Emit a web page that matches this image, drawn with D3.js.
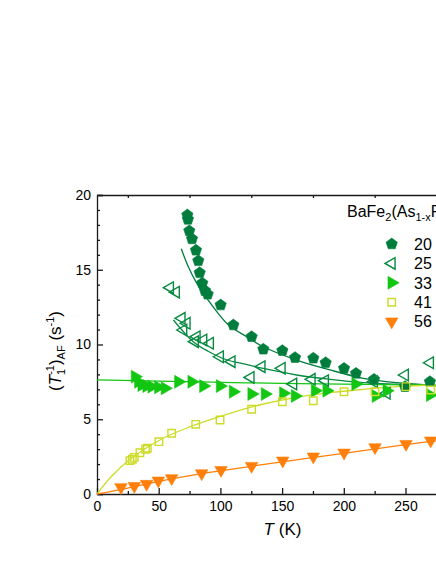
<!DOCTYPE html>
<html>
<head>
<meta charset="utf-8">
<script src="https://cdn.jsdelivr.net/npm/d3@7"></script>
<style>
  body { margin: 0; background: #fff; }
  svg { display: block; font-family: "Liberation Sans", Arial, sans-serif; }
</style>
</head>
<body>
<svg id="main" width="436" height="564"></svg>
<script>
// measured points, x = 20, 25, 33, 41, 56 (%)
const t20 = [73.2, 73.7, 74.8, 77, 80.2, 82.1, 83.2, 85.3, 87.5, 89.7, 100.2, 110.5, 125.3, 134.8, 150.2, 160.5, 175.3, 185.3, 200.2, 209.9, 224.5, 249.6, 269.8];
const r20 = [18.66, 18.37, 17.6, 17.06, 16.3, 15.6, 14.8, 14.1, 13.6, 13.36, 12.64, 11.3, 10.52, 9.68, 9.59, 9.12, 9.08, 8.78, 8.4, 8.07, 7.67, 7.18, 7.51];

const t25 = [59.2, 64, 68.6, 72.7, 70, 79.4, 80.8, 86.2, 91.6, 99.7, 109.1, 124.5, 133.4, 149.7, 159.1, 174, 184.8, 224.5, 234.8, 249.6, 269.9];
const r25 = [13.8, 13.5, 11.75, 11.42, 10.97, 10.19, 10.52, 10.3, 10.08, 9.18, 8.85, 7.8, 8.52, 8.41, 7.36, 7.67, 7.58, 7.51, 6.74, 7.96, 8.78];

const t33 = [30.8, 33.5, 36.2, 40.2, 44.3, 49.7, 55.1, 65.9, 76.7, 86.2, 99.7, 110.3, 125.3, 136.1, 151, 160.5, 176.7, 186.1, 209.5, 226, 234.8, 270];
const r33 = [7.85, 7.51, 7.29, 7.22, 7.18, 7.14, 7.07, 7.51, 7.51, 7.22, 7.22, 6.84, 6.69, 6.69, 6.74, 6.56, 6.91, 6.91, 7.35, 6.55, 6.91, 6.62];

const t41 = [26.7, 28.6, 30.2, 34.8, 39.4, 40.8, 50.2, 60.5, 80, 99.7, 125.3, 150.2, 175.3, 200.2, 225.3, 250.4, 270.4];
const r41 = [2.23, 2.32, 2.45, 2.76, 2.99, 3.06, 3.5, 4.06, 4.66, 4.95, 5.67, 6.17, 6.24, 6.84, 6.84, 7.18, 6.96];

const t56 = [19.4, 30.2, 40.2, 49.7, 60.5, 84.8, 100.5, 125.3, 150.5, 175.3, 200.2, 225.3, 250.4, 270.4];
const r56 = [0.45, 0.53, 0.67, 0.89, 1.05, 1.38, 1.6, 1.87, 2.23, 2.5, 2.76, 3.12, 3.34, 3.57];

// fit curves
const fit20T = [68.3, 74, 80.8, 94.3, 106.7, 121.3, 134.8, 161.8, 188.8, 215.8, 242.9, 269.9, 282];
const fit20R = [16.4, 15.2, 14.1, 12.5, 11.3, 10.52, 9.85, 8.96, 8.3, 7.74, 7.45, 7.29, 7.24];
const fit25T = [61.9, 78, 90, 105, 120, 134.8, 161.8, 188.8, 215.8, 242.9, 270, 282];
const fit25R = [11.64, 10.19, 9.55, 8.98, 8.68, 8.4, 7.96, 7.67, 7.45, 7.34, 7.25, 7.22];
const fit33T = [0, 50, 100, 150, 200, 250, 282];
const fit33R = [7.63, 7.55, 7.47, 7.4, 7.35, 7.3, 7.28];
const fit41T = [0, 12, 25.4, 52.4, 79.4, 107.8, 134.8, 161.8, 188.8, 215.8, 242.9, 269.9, 282];
const fit41R = [0, 1.2, 2.23, 3.68, 4.62, 5.4, 6.02, 6.47, 6.78, 7.0, 7.18, 7.29, 7.33];
const fit56T = [0, 25, 50, 80, 100, 150, 200, 250, 282];
const fit56R = [0, 0.4, 0.85, 1.3, 1.55, 2.15, 2.72, 3.3, 3.62];

const xTicks = [0, 50, 100, 150, 200, 250];
const yTicks = [0, 5, 10, 15, 20];
const legendLabels = ["20", "25", "33", "41", "56"];

const svg = d3.select("#main");
const x = d3.scaleLinear().domain([0, 300]).range([97, 467.2]);
const y = d3.scaleLinear().domain([0, 20]).range([494, 195]);

const pentagon = {
  draw(ctx, size) {
    const r = Math.sqrt(size / 2.378);
    for (let i = 0; i < 5; i++) {
      const a = -Math.PI / 2 + i * 2 * Math.PI / 5;
      if (i === 0) ctx.moveTo(r * Math.cos(a), r * Math.sin(a));
      else ctx.lineTo(r * Math.cos(a), r * Math.sin(a));
    }
    ctx.closePath();
  }
};

const series = [
  { t: t20, r: r20, ft: fit20T, fr: fit20R, color: "#007d3c", type: pentagon, size: 84, rot: 0, open: false },
  { t: t25, r: r25, ft: fit25T, fr: fit25R, color: "#078a40", type: d3.symbolTriangle, size: 58, rot: -90, open: true },
  { t: t33, r: r33, ft: fit33T, fr: fit33R, color: "#12c612", type: d3.symbolTriangle, size: 72, rot: 90, open: false },
  { t: t41, r: r41, ft: fit41T, fr: fit41R, color: "#cddc28", type: d3.symbolSquare, size: 56, rot: 0, open: true },
  { t: t56, r: r56, ft: fit56T, fr: fit56R, color: "#ff7f0a", type: d3.symbolTriangle, size: 68, rot: 180, open: false }
];

// axes
const axisColor = "#1a1a1a";
function styleAxis(g) {
  g.selectAll("path, line").attr("stroke", axisColor).attr("stroke-width", 1.3);
  g.selectAll("text").attr("fill", "#000").attr("font-size", 14).attr("font-family", "Liberation Sans, Arial, sans-serif");
}

svg.append("g").attr("transform", "translate(0,494)")
  .call(d3.axisBottom(x).tickValues(xTicks).tickSize(-6).tickSizeOuter(0).tickPadding(7.5).tickFormat(d3.format("d")))
  .call(styleAxis);
svg.append("g").attr("transform", "translate(0,494)")
  .call(d3.axisBottom(x).tickValues(d3.range(25, 300, 50)).tickSize(-3).tickFormat(""))
  .call(styleAxis).select(".domain").remove();

svg.append("g").attr("transform", "translate(97,0)")
  .call(d3.axisLeft(y).tickValues(yTicks).tickSize(-6).tickPadding(6))
  .call(styleAxis);
svg.append("g").attr("transform", "translate(97,0)")
  .call(d3.axisLeft(y).tickValues(d3.range(0, 21).filter(v => v % 5 !== 0)).tickSize(-3).tickFormat(""))
  .call(styleAxis).select(".domain").remove();

svg.append("g").attr("transform", "translate(0,195)")
  .call(d3.axisTop(x).tickValues(d3.range(25, 300, 50)).tickSize(-3).tickSizeOuter(0).tickFormat(""))
  .call(styleAxis);

// fit lines
const line = d3.line().x(d => x(d[0])).y(d => y(d[1])).curve(d3.curveCatmullRom);
series.forEach(s => {
  svg.append("path")
    .datum(s.ft.map((t, i) => [t, s.fr[i]]))
    .attr("d", line)
    .attr("fill", "none")
    .attr("stroke", s.color)
    .attr("stroke-width", 1.3);
});

// markers
function drawMarker(g, s, cx, cy) {
  g.append("path")
    .attr("d", d3.symbol().type(s.type).size(s.size)())
    .attr("transform", `translate(${cx},${cy}) rotate(${s.rot})`)
    .attr("fill", s.open ? "none" : s.color)
    .attr("stroke", s.color)
    .attr("stroke-width", s.open ? 1.4 : 0.6);
}
series.forEach(s => {
  const g = svg.append("g");
  s.t.forEach((t, i) => drawMarker(g, s, x(t), y(s.r[i])));
});

// legend
const title = svg.append("text").attr("x", 347).attr("y", 217).attr("font-size", 16).attr("fill", "#000");
title.append("tspan").text("BaFe");
title.append("tspan").attr("font-size", 11).attr("dy", 4).text("2");
title.append("tspan").attr("dy", -4).text("(As");
title.append("tspan").attr("font-size", 11).attr("dy", 4).text("1-x");
title.append("tspan").attr("dy", -4).text("P");
title.append("tspan").attr("font-size", 11).attr("dy", 4).text("x");
title.append("tspan").attr("dy", -4).text(")");
title.append("tspan").attr("font-size", 11).attr("dy", 4).text("2");

const legend = svg.append("g");
series.forEach((s, i) => {
  const cy = 244 + i * 19.4;
  drawMarker(legend, s, 391.7, cy);
  legend.append("text").attr("x", 414).attr("y", cy).attr("dy", "0.36em")
    .attr("font-size", 16).attr("fill", "#000").text(legendLabels[i]);
});

// axis titles
const xt = svg.append("text").attr("x", 282.5).attr("y", 535).attr("text-anchor", "middle")
  .attr("font-size", 17).attr("fill", "#000");
xt.append("tspan").attr("font-style", "italic").text("T");
xt.append("tspan").text(" (K)");

const yt = svg.append("text").attr("transform", "translate(61,351) rotate(-90)")
  .attr("text-anchor", "middle").attr("font-size", 17).attr("fill", "#000");
yt.append("tspan").text("(");
yt.append("tspan").attr("font-style", "italic").text("T");
yt.append("tspan").attr("font-size", 11).attr("dy", 4).text("1");
yt.append("tspan").attr("font-size", 11).attr("dx", -6).attr("dy", -11).text("-1");
yt.append("tspan").attr("dy", 7).text(")");
yt.append("tspan").attr("font-size", 11).attr("dy", 4).text("AF");
yt.append("tspan").attr("dy", -4).text(" (s");
yt.append("tspan").attr("font-size", 11).attr("dy", -7).text("-1");
yt.append("tspan").attr("dy", 7).text(")");
</script>
</body>
</html>
